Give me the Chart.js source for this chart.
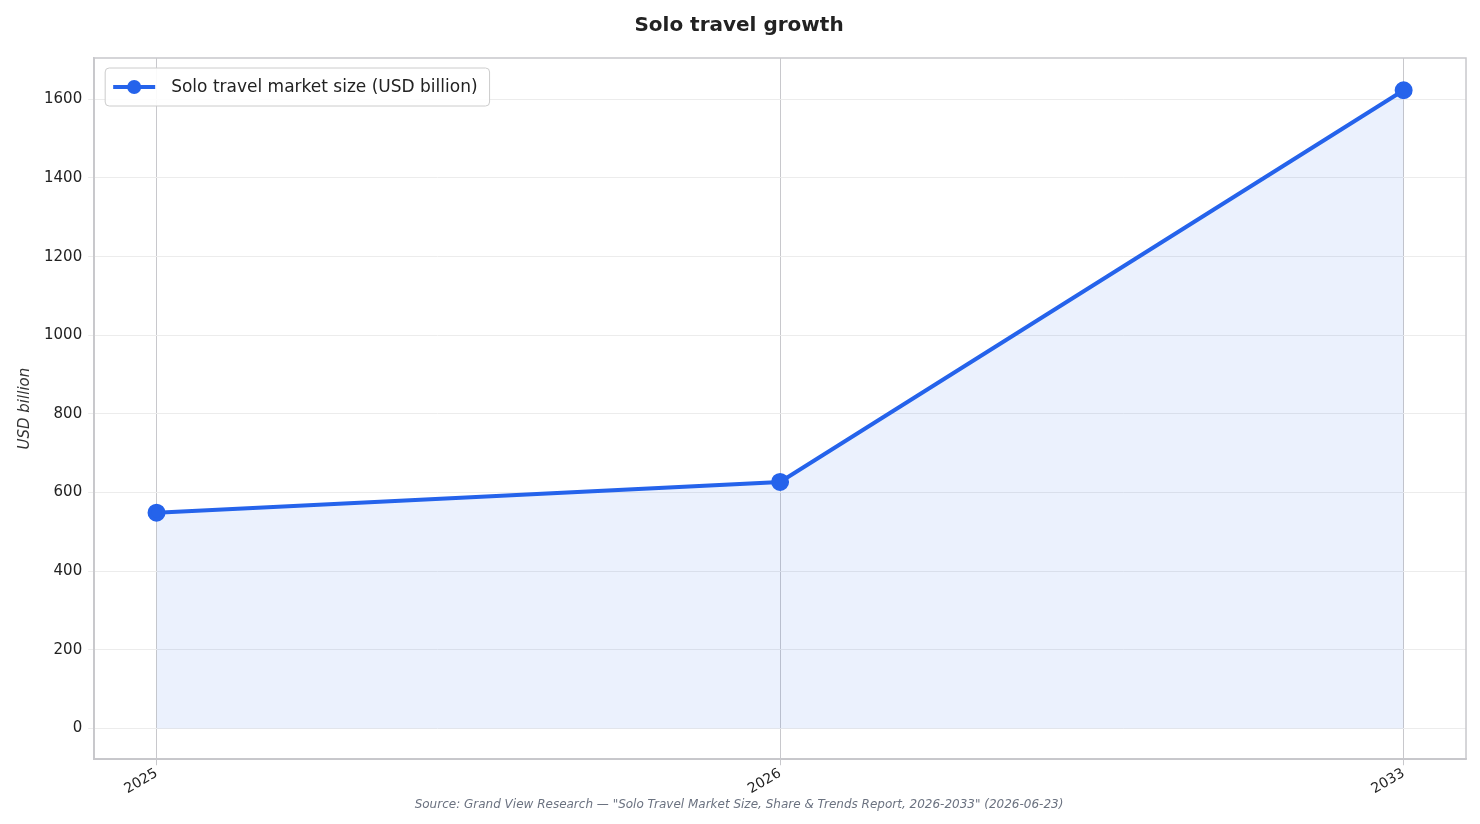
<!DOCTYPE html>
<html><head><meta charset="utf-8">
<script src="https://cdn.jsdelivr.net/npm/chart.js@4/dist/chart.umd.min.js"></script>
<style>html,body{margin:0;padding:0;background:#fff}#w{width:1480px;height:824px}</style>
</head><body><div id="w"><canvas id="c"></canvas></div>
<script>
const years = ["2025","2026","2033"];
const marketSize = [549, 627, 1623];
const yTicks = [0,200,400,600,800,1000,1200,1400,1600];
const seriesLabel = 'Solo travel market size (USD billion)';

Chart.defaults.font.family = "'DejaVu Sans', sans-serif";
Chart.defaults.color = "#222";
new Chart(document.getElementById('c'), {
  type: 'line',
  data: { datasets: [{
    label: seriesLabel,
    data: marketSize.map((v,i)=>({x:i,y:v})),
    borderColor: '#2563eb', backgroundColor: 'rgba(37,99,235,0.09)',
    fill: 'origin', borderWidth: 4, pointRadius: 7, pointHoverRadius: 7,
    pointBackgroundColor: '#2563eb', pointBorderColor: '#2563eb', tension: 0
  }]},
  options: {
    responsive: true, maintainAspectRatio: false, animation: false,
    layout: { padding: { left: 12, right: 14, top: 4, bottom: 12 } },
    plugins: {
      title: { display: true, text: 'Solo travel growth', font: { size: 20, weight: 'bold' }, color: '#222', padding: { top: 10, bottom: 20 } },
      subtitle: { display: true, position: 'bottom', text: 'Source: Grand View Research — "Solo Travel Market Size, Share & Trends Report, 2026-2033" (2026-06-23)', font: { size: 12, style: 'italic' }, color: '#6b7280', padding: { top: 0, bottom: 0 } },
      legend: { display: false },
      tooltip: { enabled: false }
    },
    scales: {
      x: { type: 'linear', min: -0.1, max: 2.1,
        afterBuildTicks: a => { a.ticks = years.map((_,i)=>({value:i})); },
        ticks: { callback: v => years[v], font: { size: 14 }, color: '#222', maxRotation: 30, minRotation: 30, padding: 0 },
        grid: { color: '#c8c8cc', lineWidth: 1, drawTicks: true, tickLength: 6 },
        border: { color: '#c8c8cc', width: 1.5 } },
      y: { min: -78, max: 1705,
        afterBuildTicks: a => { a.ticks = yTicks.map(v=>({value:v})); },
        ticks: { callback: v => String(v), font: { size: 15 }, color: '#222', padding: 6 },
        title: { display: true, text: 'USD billion', font: { size: 15, style: 'italic' }, color: '#333' },
        grid: { color: '#ececec', lineWidth: 1, tickLength: 6 },
        border: { color: '#c8c8cc', width: 1.5 } }
    }
  },
  plugins: [{ id: 'box', afterDraw(ch){
    const a=ch.chartArea, x=ch.ctx; x.save();
    x.strokeStyle='#c8c8cc'; x.lineWidth=1.5; x.strokeRect(a.left,a.top,a.right-a.left,a.bottom-a.top);
    // legend box
    x.font = "17px 'DejaVu Sans', sans-serif";
    const tw = x.measureText(seriesLabel).width;
    const lx=a.left+11, ly=a.top+10, lw=tw+78, lh=38;
    x.fillStyle='rgba(255,255,255,0.9)'; x.strokeStyle='#cccccc'; x.lineWidth=1;
    x.beginPath(); x.roundRect(lx,ly,lw,lh,4); x.fill(); x.stroke();
    const cy=ly+lh/2;
    x.strokeStyle='#2563eb'; x.lineWidth=4; x.beginPath(); x.moveTo(lx+8,cy); x.lineTo(lx+50,cy); x.stroke();
    x.fillStyle='#2563eb'; x.beginPath(); x.arc(lx+29,cy,7,0,Math.PI*2); x.fill();
    x.fillStyle='#222'; x.textBaseline='middle'; x.fillText(seriesLabel,lx+66,cy+1);
    x.restore(); } }]
});
</script></body></html>
